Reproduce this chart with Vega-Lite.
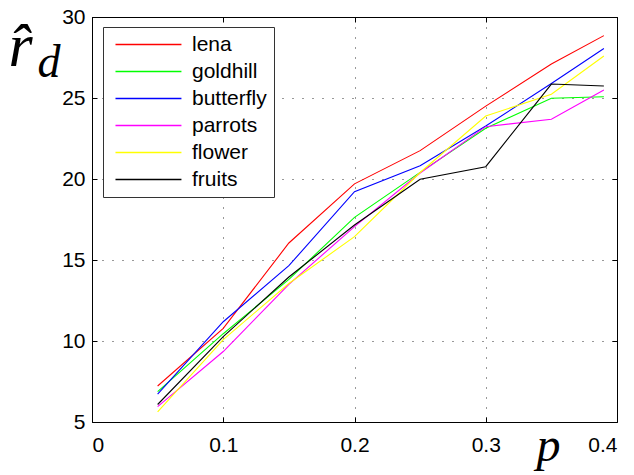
{
  "$schema": "https://vega.github.io/schema/vega-lite/v6.json",
  "width": 525,
  "height": 405,
  "autosize": {"type": "none"},
  "padding": {"left": 92, "top": 17, "right": 17, "bottom": 53},
  "background": "white",
  "view": {"stroke": "black", "strokeWidth": 1},
  "config": {
    "axis": {
      "labelFont": "Liberation Sans",
      "labelFontSize": 21,
      "labelColor": "black",
      "domain": false,
      "tickColor": "black",
      "tickSize": -5,
      "gridColor": "black",
      "gridDash": [1, 9],
      "gridOpacity": 0.8,
      "titleFont": "Liberation Serif",
      "titleFontStyle": "italic",
      "titleFontWeight": "normal",
      "titleColor": "black"
    },
    "legend": {
      "orient": "none",
      "legendX": 11,
      "legendY": 10,
      "strokeColor": "#333",
      "fillColor": "white",
      "padding": 7,
      "symbolType": "M-0.76,0L9.24,0",
      "symbolSize": 174,
      "symbolStrokeWidth": 1.5,
      "labelFont": "Liberation Sans",
      "labelFontSize": 21,
      "labelColor": "black",
      "labelOffset": 61,
      "rowPadding": 5,
      "title": null
    }
  },
  "data": {
    "values": [
      {"p": 0.05, "image": "lena", "r": 7.22},
      {"p": 0.10, "image": "lena", "r": 10.78},
      {"p": 0.15, "image": "lena", "r": 16.05},
      {"p": 0.20, "image": "lena", "r": 19.70},
      {"p": 0.25, "image": "lena", "r": 21.75},
      {"p": 0.30, "image": "lena", "r": 24.50},
      {"p": 0.35, "image": "lena", "r": 27.10},
      {"p": 0.39, "image": "lena", "r": 28.85},
      {"p": 0.05, "image": "goldhill", "r": 6.87},
      {"p": 0.10, "image": "goldhill", "r": 10.45},
      {"p": 0.15, "image": "goldhill", "r": 13.80},
      {"p": 0.20, "image": "goldhill", "r": 17.63},
      {"p": 0.25, "image": "goldhill", "r": 20.41},
      {"p": 0.30, "image": "goldhill", "r": 23.13},
      {"p": 0.35, "image": "goldhill", "r": 24.98},
      {"p": 0.39, "image": "goldhill", "r": 25.08},
      {"p": 0.05, "image": "butterfly", "r": 6.72},
      {"p": 0.10, "image": "butterfly", "r": 11.19},
      {"p": 0.15, "image": "butterfly", "r": 14.65},
      {"p": 0.20, "image": "butterfly", "r": 19.22},
      {"p": 0.25, "image": "butterfly", "r": 20.82},
      {"p": 0.30, "image": "butterfly", "r": 23.27},
      {"p": 0.35, "image": "butterfly", "r": 25.90},
      {"p": 0.39, "image": "butterfly", "r": 28.06},
      {"p": 0.05, "image": "parrots", "r": 5.95},
      {"p": 0.10, "image": "parrots", "r": 9.35},
      {"p": 0.15, "image": "parrots", "r": 13.50},
      {"p": 0.20, "image": "parrots", "r": 17.06},
      {"p": 0.25, "image": "parrots", "r": 20.37},
      {"p": 0.30, "image": "parrots", "r": 23.23},
      {"p": 0.35, "image": "parrots", "r": 23.69},
      {"p": 0.39, "image": "parrots", "r": 25.49},
      {"p": 0.05, "image": "flower", "r": 5.63},
      {"p": 0.10, "image": "flower", "r": 10.08},
      {"p": 0.15, "image": "flower", "r": 13.55},
      {"p": 0.20, "image": "flower", "r": 16.44},
      {"p": 0.25, "image": "flower", "r": 20.40},
      {"p": 0.30, "image": "flower", "r": 23.89},
      {"p": 0.35, "image": "flower", "r": 25.23},
      {"p": 0.39, "image": "flower", "r": 27.59},
      {"p": 0.05, "image": "fruits", "r": 6.08},
      {"p": 0.10, "image": "fruits", "r": 10.27},
      {"p": 0.15, "image": "fruits", "r": 13.95},
      {"p": 0.20, "image": "fruits", "r": 17.16},
      {"p": 0.25, "image": "fruits", "r": 19.98},
      {"p": 0.30, "image": "fruits", "r": 20.76},
      {"p": 0.35, "image": "fruits", "r": 25.86},
      {"p": 0.39, "image": "fruits", "r": 25.74}
    ]
  },
  "layer": [
    {
      "mark": {"type": "line", "strokeWidth": 1.1},
      "encoding": {
        "x": {
          "field": "p", "type": "quantitative",
          "scale": {"domain": [0, 0.4], "nice": false, "zero": false},
          "axis": {
            "orient": "bottom", "values": [0, 0.1, 0.2, 0.3, 0.4], "format": "~g",
            "grid": true, "labelPadding": 17,
            "title": "p", "titleFontSize": 48, "titleAlign": "left", "titleBaseline": "alphabetic",
            "titleX": 444, "titleY": 38, "titleAngle": 0
          }
        },
        "y": {
          "field": "r", "type": "quantitative",
          "scale": {"domain": [5, 30], "nice": false, "zero": false},
          "axis": {
            "orient": "left", "values": [5, 10, 15, 20, 25, 30],
            "grid": true, "labelPadding": 12,
            "title": "r\u0302", "titleFontSize": 62, "titleAlign": "left", "titleBaseline": "alphabetic",
            "titleX": -84, "titleY": 48, "titleAngle": 0
          }
        },
        "color": {
          "field": "image", "type": "nominal",
          "scale": {
            "domain": ["lena", "goldhill", "butterfly", "parrots", "flower", "fruits"],
            "range": ["#ff0000", "#00ff00", "#0000ff", "#ff00ff", "#ffff00", "#000000"]
          }
        }
      }
    },
    {
      "mark": {"type": "line", "strokeOpacity": 0},
      "encoding": {
        "x": {
          "field": "p", "type": "quantitative",
          "axis": {"orient": "top", "values": [0, 0.1, 0.2, 0.3, 0.4], "labels": false, "grid": false, "title": null}
        },
        "y": {
          "field": "r", "type": "quantitative",
          "axis": {
            "orient": "right", "values": [5, 10, 15, 20, 25, 30], "labels": false, "grid": false,
            "title": "d", "titleFontSize": 46, "titleAlign": "left", "titleBaseline": "alphabetic",
            "titleX": -580, "titleY": 59, "titleAngle": 0
          }
        },
        "detail": {"field": "image", "type": "nominal"}
      }
    }
  ],
  "resolve": {"axis": {"x": "independent", "y": "independent"}}
}
